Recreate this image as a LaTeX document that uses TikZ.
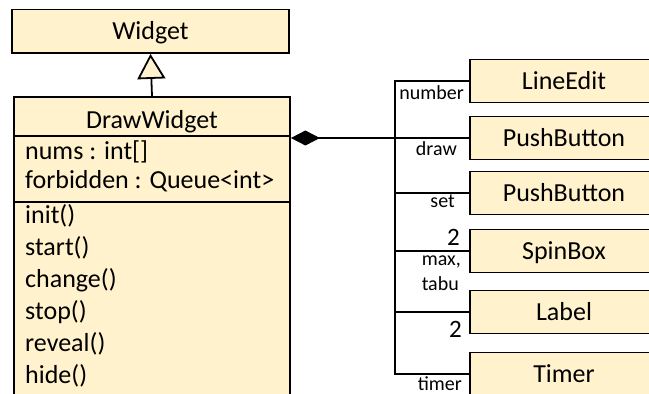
\documentclass[tikz,border=0pt]{standalone}
\usepackage{fontspec}
\setmainfont{Carlito}
\usetikzlibrary{arrows.meta}
\definecolor{boxfill}{HTML}{FFF2CC}
\begin{document}
\begin{tikzpicture}[x=1pt,y=-1pt,
  cls/.style={draw=black, fill=boxfill, line width=1.8pt, inner sep=0pt,
    font=\fontsize{26}{31}\selectfont, text height=16.7pt, text depth=0pt},
  rbox/.style={cls, minimum width=188pt, minimum height=43pt},
  txt/.style={font=\fontsize{26}{31}\selectfont, anchor=base west, inner sep=0pt},
  lbl/.style={font=\fontsize{20}{24}\selectfont, anchor=base east, inner sep=0pt},
  mult/.style={font=\fontsize{25}{30}\selectfont, anchor=base east, inner sep=0pt},
  conn/.style={line width=1.8pt, draw=black, line join=miter}]
\useasboundingbox (0,0) rectangle (649,394);
\clip (0,0) rectangle (649,394);
% classes
\node[cls, minimum width=277pt, minimum height=43.5pt] (widget) at (150.5,31.25) {Widget};
\node[cls, minimum width=276pt, minimum height=323pt] (dw) at (152,258.5) {};
\coordinate (s1) at (0,136);
\coordinate (s2) at (0,202);
\draw[conn] (dw.west |- s1) -- (dw.east |- s1);
\draw[conn] (dw.west |- s2) -- (dw.east |- s2);
\node[txt, anchor=base] (dwname) at (152,128) {DrawWidget};
\node[txt] (a1) at (25,159) {nums : int[]};
\node[txt] (a2) at (25,188.5) {forbidden : Queue<int>};
\node[txt] (m1) at (25,223) {init()};
\node[txt] (m2) at (25,255) {start()};
\node[txt] (m3) at (25,287) {change()};
\node[txt] (m4) at (25,319) {stop()};
\node[txt] (m5) at (25,351) {reveal()};
\node[txt] (m6) at (25,383) {hide()};
% right classes
\node[rbox] (le) at (564,81) {LineEdit};
\node[rbox] (pb1) at (564,138) {PushButton};
\node[rbox] (pb2) at (564,193) {PushButton};
\node[rbox] (sb) at (564,251) {SpinBox};
\node[rbox] (lb) at (564,312) {Label};
\node[rbox] (tm) at (564,374) {Timer};
% inheritance
\draw[conn, {Triangle[length=25pt,width=28pt,fill=boxfill]}-] (widget.south) -- (dw.north);
% composition
\coordinate (busx) at (395,0);
\draw[conn, {Diamond[length=29pt,width=15pt]}-] (pb1.west -| dw.east) -- (pb1.west);
\draw[conn] (le.west) -- (busx |- le.west) -- (busx |- tm.west) -- (tm.west);
\draw[conn] (busx |- pb2.west) -- (pb2.west);
\draw[conn] (busx |- sb.west) -- (sb.west);
\draw[conn] (busx |- lb.west) -- (lb.west);
% labels
\node[lbl] (l1) at (464,99) {number};
\node[lbl] (l2) at (457,155) {draw};
\node[lbl] (l3) at (455,207) {set};
\node[mult] (l4) at (460,245) {2};
\node[lbl] (l5) at (461,265) {max,};
\node[lbl] (l6) at (459,290) {tabu};
\node[mult] (l7) at (462,337) {2};
\node[lbl] (l8) at (462,390) {timer};
\end{tikzpicture}
\end{document}
